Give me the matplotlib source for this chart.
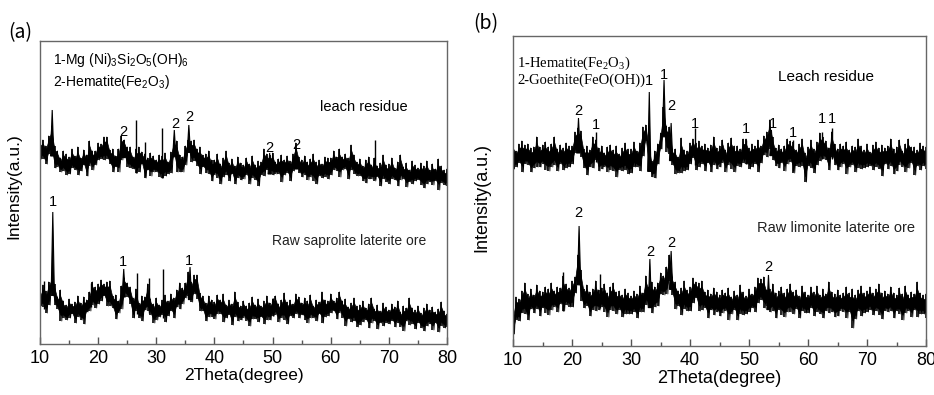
import numpy as np
import matplotlib
matplotlib.use("Agg")
import matplotlib.pyplot as plt

plt.rcParams['font.family'] = ['Liberation Sans', 'DejaVu Sans']
plt.rcParams['mathtext.fontset'] = 'custom'
plt.rcParams['mathtext.rm'] = 'Liberation Serif'
plt.rcParams['mathtext.sf'] = 'Liberation Sans'

# 2theta grid of the noisy trace (0.5 deg); hi = local maxima, lo = local minima
tt = np.arange(10, 80.01, 0.5)

# ---- (a) leach residue
la_hi = [202,204,198,208,218,198,193,186,193,190,
         187,195,188,197,186,194,189,203,193,193,
         201,200,207,207,194,195,188,195,208,204,
         197,197,187,195,197,192,190,186,191,188,
         184,189,188,191,182,192,203,203,189,187,
         198,204,203,204,195,197,189,190,193,184,
         184,190,180,186,193,181,185,178,187,181,
         179,186,180,188,179,183,182,195,190,189,
         191,182,185,189,184,188,183,190,201,187,
         184,188,182,185,190,182,184,180,187,186,
         186,193,187,195,187,190,186,199,189,182,
         185,178,184,187,179,186,178,181,189,179,
         180,186,176,182,189,177,181,174,183,179,
         176,181,178,183,174,180,175,185,178,174,
         175]
la_lo = [185,185,180,190,191,176,177,172,173,169,
         170,176,174,169,173,179,168,178,174,179,
         184,185,184,185,180,172,177,172,184,187,
         177,176,175,171,172,180,166,174,168,172,
         172,167,166,168,170,171,191,172,172,172,
         179,194,182,183,178,170,177,171,170,163,
         169,166,160,167,169,163,170,160,166,164,
         165,169,160,166,164,158,169,168,174,170,
         169,170,170,162,169,171,163,173,175,171,
         167,169,164,167,163,160,168,166,167,165,
         169,174,173,167,174,175,165,174,170,168,
         168,163,161,165,165,163,167,158,165,162,
         160,165,164,158,164,165,157,162,160,163,
         164,159,156,160,162,159,163,154,161,159,
         158]
la_peak_x = [12.1, 24.4, 33.1, 35.6, 49.5, 54.0]
la_peak_y = [234, 204, 214, 219, 191, 192]
la_spike_x = [26.5, 28.1, 31.0, 67.7]
la_spike_y = [224, 202, 216, 204]
la_lbl = [('2', 24.4, 212), ('2', 33.2, 220), ('2', 35.7, 227), ('2', 49.5, 196), ('2', 54.0, 199)]

# ---- (a) raw saprolite laterite ore
ra_hi = [50,59,53,62,67,60,47,54,43,39,
         45,40,42,48,41,47,44,52,62,57,
         60,64,60,62,63,48,49,43,58,66,
         61,57,46,55,41,48,47,60,45,40,
         46,39,44,49,43,50,46,54,61,56,
         61,72,62,69,69,51,48,41,48,44,
         42,49,44,50,39,44,40,52,42,38,
         43,38,41,47,39,45,38,43,48,41,
         45,48,40,44,51,42,44,40,50,47,
         41,46,43,49,38,44,42,52,44,43,
         50,43,46,52,43,45,37,41,46,38,
         39,43,36,40,46,35,39,33,41,37,
         34,40,37,43,32,38,36,46,36,34,
         38,31,36,40,34,37,32,35,42,33,
         30]
ra_lo = [38,37,31,39,55,39,35,23,26,24,
         26,30,21,27,24,20,32,33,39,36,
         40,43,48,38,38,36,25,31,35,50,
         47,40,26,33,26,23,34,33,29,21,
         24,27,29,22,28,33,26,37,35,40,
         46,48,42,50,45,33,33,23,27,27,
         25,30,30,22,26,29,19,27,23,24,
         26,23,18,25,25,22,27,20,24,24,
         28,29,22,26,24,20,28,26,30,26,
         29,24,21,26,26,23,30,21,27,28,
         31,33,25,31,26,18,25,22,23,17,
         19,22,24,16,21,23,15,21,18,21,
         20,23,17,21,17,13,23,19,20,15,
         21,16,13,18,20,14,21,12,18,16,
         17]
ra_peak_x = [12.2, 24.4, 35.8]
ra_peak_y = [132, 75, 77]
ra_spike_x = [10.7, 18.8, 26.7, 28.8, 31.2, 50.1]
ra_spike_y = [63, 61, 71, 66, 75, 46]
ra_lbl = [('1', 12.2, 142), ('1', 24.3, 82), ('1', 35.7, 83)]

# ---- (b) leach residue
lb_hi = [203,195,202,205,201,202,198,199,209,199,
         201,204,199,202,209,197,201,198,203,200,
         200,214,218,215,197,200,196,209,206,198,
         200,193,199,201,196,200,192,198,203,197,
         197,204,195,203,219,221,204,185,195,202,
         213,239,220,219,197,197,189,208,196,195,
         203,207,203,205,200,202,198,201,209,198,
         200,206,196,203,208,200,200,197,207,207,
         198,202,200,206,200,210,214,226,209,198,
         201,197,200,207,205,204,196,202,207,193,
         199,206,197,204,213,209,205,198,214,202,
         197,202,200,204,196,200,199,207,200,196,
         202,194,201,204,198,201,198,200,207,197,
         199,206,195,202,207,199,199,196,203,200,
         199]
lb_lo = [177,179,183,174,182,181,174,178,179,179,
         182,176,175,179,181,175,182,176,178,179,
         182,193,194,189,178,171,179,178,186,175,
         177,179,174,176,175,169,176,175,176,172,
         173,179,179,175,190,205,176,169,168,182,
         197,213,194,192,181,172,173,173,175,176,
         182,188,176,179,182,175,183,174,181,177,
         179,183,174,181,177,174,180,179,183,182,
         177,179,182,174,183,191,189,197,186,180,
         178,183,175,182,184,173,180,179,180,164,
         180,178,173,181,185,187,186,176,189,181,
         176,179,182,172,179,181,174,178,177,178,
         179,180,176,179,177,170,182,177,180,172,
         175,181,179,174,178,183,171,180,176,180,
         177]
lb_peak_x = [21.1, 33.1, 35.6, 36.8, 53.8]
lb_peak_y = [228, 254, 266, 223, 216]
lb_spike_x = [24.1, 40.8, 49.5, 57.4, 62.4, 64.1]
lb_spike_y = [214, 218, 206, 206, 214, 218]
lb_lbl = [('2', 21.0, 235), ('1', 24.1, 221), ('1', 33.0, 265), ('1', 35.6, 271),
          ('2', 36.9, 240), ('1', 40.8, 222), ('1', 49.5, 217), ('1', 54.0, 222),
          ('1', 57.4, 213), ('1', 62.3, 227), ('1', 64.0, 227)]

# ---- (b) raw limonite laterite ore
rb_hi = [33,49,47,55,63,52,57,51,61,55,
         54,59,57,63,55,59,58,70,62,58,
         65,69,91,76,57,61,54,57,65,56,
         58,62,53,59,63,54,55,51,57,53,
         50,55,52,60,53,70,59,64,59,63,
         73,70,79,91,69,64,55,58,65,56,
         59,68,64,63,65,54,56,52,58,54,
         51,56,53,58,49,55,51,61,54,50,
         57,52,59,68,67,69,56,57,62,53,
         55,59,53,57,62,54,56,50,60,54,
         51,59,54,60,51,57,52,64,54,52,
         56,51,53,59,53,57,51,56,60,53,
         55,59,53,57,62,53,55,52,59,53,
         51,58,52,60,51,54,52,64,53,51,
         52]
rb_lo = [12,26,25,33,32,26,37,33,37,30,
         38,33,31,36,39,34,42,35,41,39,
         39,53,72,45,38,40,30,36,35,36,
         39,34,29,36,35,32,36,29,32,32,
         32,34,28,34,34,41,42,33,39,40,
         52,51,52,65,51,37,40,31,37,35,
         35,43,48,35,36,38,28,36,31,34,
         30,33,35,26,32,36,26,32,31,32,
         34,38,34,43,46,38,40,34,35,28,
         36,31,29,34,34,32,37,28,35,33,
         33,38,30,34,32,28,35,33,34,29,
         30,35,34,28,34,18,27,35,30,33,
         34,36,31,35,31,27,35,34,35,28,
         35,32,26,33,35,29,36,29,32,32,
         28]
rb_peak_x = [21.2, 33.2, 36.8, 53.3]
rb_peak_y = [120, 87, 95, 71]
rb_spike_x = [18.5, 24.8]
rb_spike_y = [74, 72]
rb_lbl = [('2', 21.0, 133), ('2', 33.2, 94), ('2', 36.9, 103), ('2', 53.2, 79)]


def trace(ax, hi, lo, px, py, sx, sy):
    hi = np.array(hi, float)
    lo = np.array(lo, float)
    # dense core of the noisy trace, hair-like excursions to the maxima / minima
    span = hi - lo
    ax.fill_between(tt, lo + 0.2 * span, hi - 0.2 * span, color='k', lw=0.5, edgecolor='k')
    ax.vlines(tt, lo, hi, color='k', lw=1.2)
    x = np.column_stack([tt, tt + 0.25]).ravel()
    y = np.column_stack([hi, lo]).ravel()
    ax.plot(x, y, color='k', lw=0.6)
    for p, top in zip(px, py):
        b = np.interp(p, tt, lo)
        ax.fill([p - 0.28, p, p + 0.28], [b, top, b], color='k', lw=0.8)
    for p, top in zip(sx, sy):
        ax.vlines(p, np.interp(p, tt, lo), top, color='k', lw=1.0)


def frame(ax, top, fs_tick, fs_lab):
    ax.set_xlim(10, 80)
    ax.set_ylim(0, top)
    ax.set_xticks(range(10, 81, 10))
    ax.set_xticks(range(15, 80, 10), minor=True)
    ax.set_yticks([])
    ax.tick_params(axis='x', which='major', direction='in', length=5, width=1,
                   labelsize=fs_tick, pad=4, color='#555555')
    ax.tick_params(axis='x', which='minor', direction='in', length=3, width=1, color='#555555')
    for s in ax.spines.values():
        s.set_color('#666666')
        s.set_linewidth(1)
    ax.set_xlabel('2Theta(degree)', fontsize=fs_lab, labelpad=1)
    ax.set_ylabel('Intensity(a.u.)', fontsize=fs_lab)


fig = plt.figure(figsize=(9.34, 3.95), dpi=100)

# ---------------- (a)
ax = fig.add_axes([40/934, 51/395, 407/934, 303/395])
trace(ax, la_hi, la_lo, la_peak_x, la_peak_y, la_spike_x, la_spike_y)
trace(ax, ra_hi, ra_lo, ra_peak_x, ra_peak_y, ra_spike_x, ra_spike_y)
frame(ax, 303, 13, 12.5)
ax.yaxis.set_label_coords(-0.045, 0.52)
for t, x, y in la_lbl + ra_lbl:
    ax.text(x, y, t, ha='center', va='center', fontsize=10.5)
ax.text(12.2, 284, r'1-Mg (Ni)$\mathsf{_3}$Si$\mathsf{_2}$O$\mathsf{_5}$(OH)$\mathsf{_6}$',
        fontsize=10, va='center')
ax.text(12.2, 262, r'2-Hematite(Fe$\mathsf{_2}$O$\mathsf{_3}$)', fontsize=10, va='center')
ax.text(58.2, 237, 'leach residue', fontsize=10.5, va='center')
ax.text(49.9, 103, 'Raw saprolite laterite ore', fontsize=10, va='center', color='#222222')

# ---------------- (b)
bx = fig.add_axes([513/934, 49/395, 413/934, 310/395])
trace(bx, lb_hi, lb_lo, lb_peak_x, lb_peak_y, lb_spike_x, lb_spike_y)
trace(bx, rb_hi, rb_lo, rb_peak_x, rb_peak_y, rb_spike_x, rb_spike_y)
frame(bx, 310, 13, 13)
bx.yaxis.set_label_coords(-0.055, 0.48)
for t, x, y in lb_lbl + rb_lbl:
    bx.text(x, y, t, ha='center', va='center', fontsize=10.5)
bx.text(10.7, 283, r'1-Hematite(Fe$\mathrm{_2}$O$\mathrm{_3}$)', fontsize=10.5,
        va='center', family='Liberation Serif')
bx.text(10.7, 266, '2-Goethite(FeO(OH))', fontsize=10.5, va='center', family='Liberation Serif')
bx.text(54.9, 269, 'Leach residue', fontsize=11, va='center')
bx.text(51.4, 118, 'Raw limonite laterite ore', fontsize=10.5, va='center', color='#222222')

fig.text(8/934, 1 - 33/395, '(a)', fontsize=14, va='center', family='Noto Sans CJK SC')
fig.text(473/934, 1 - 24/395, '(b)', fontsize=14, va='center', family='Noto Sans CJK SC')

fig.savefig('out.png', dpi=100)
